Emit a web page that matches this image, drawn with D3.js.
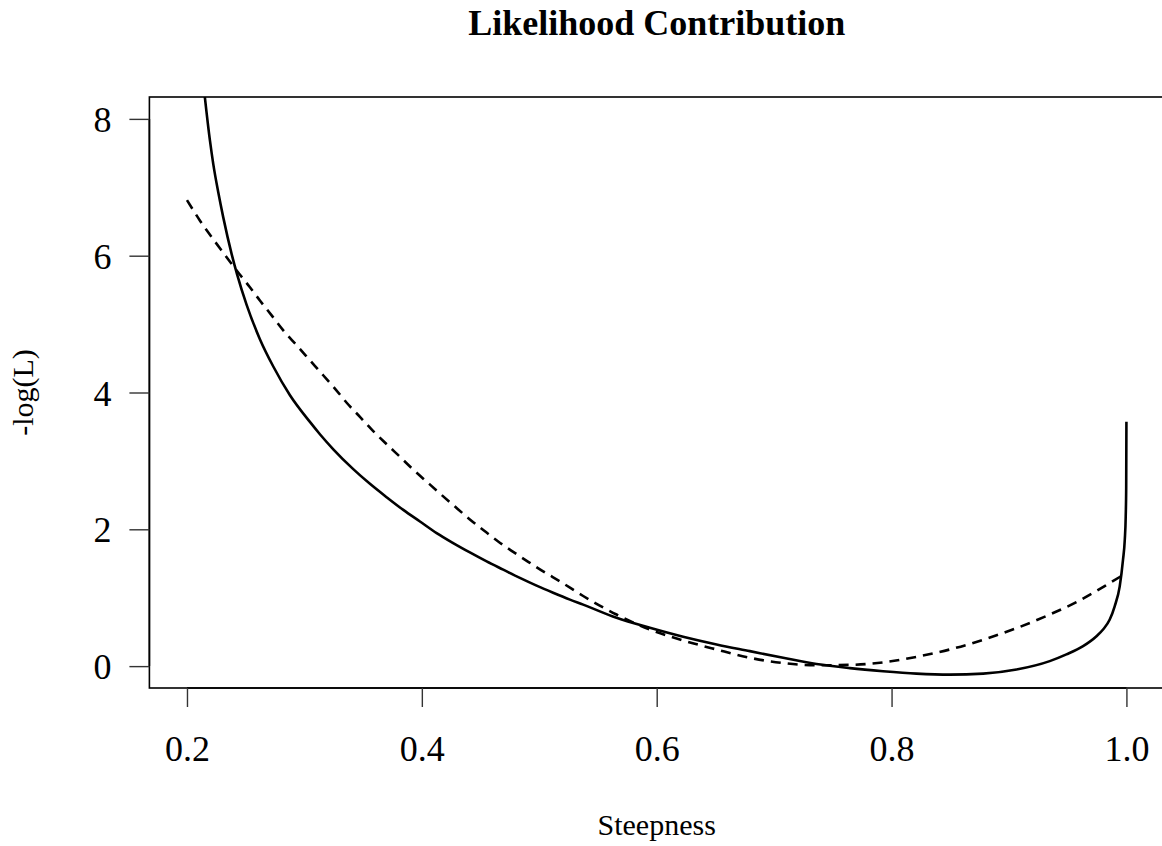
<!DOCTYPE html>
<html>
<head>
<meta charset="utf-8">
<script src="https://cdn.jsdelivr.net/npm/d3@7"></script>
<style>
  html, body { margin: 0; padding: 0; background: #fff; }
  svg { display: block; }
  text { font-family: "Liberation Serif", "Times New Roman", serif; fill: #000; }
</style>
</head>
<body>
<svg id="chart" width="1162" height="846"></svg>
<script>
// ---- data ----
const xTicks = [0.2, 0.4, 0.6, 0.8, 1.0];
const xTickLabels = ["0.2", "0.4", "0.6", "0.8", "1.0"];
const yTicks = [0, 2, 4, 6, 8];
const yTickLabels = ["0", "2", "4", "6", "8"];

const solidX = [0.2128, 0.2196, 0.2224, 0.2266, 0.2309, 0.2381, 0.2428, 0.2508, 0.2621, 0.2735,
  0.2877, 0.3047, 0.3132, 0.3246, 0.3416, 0.3558, 0.3700, 0.3842, 0.3984, 0.4126,
  0.4267, 0.4409, 0.4552, 0.4693, 0.4835, 0.4977, 0.5118, 0.5261, 0.5374, 0.5658,
  0.5942, 0.6225, 0.6510, 0.6793, 0.7077, 0.7361, 0.7645, 0.7928, 0.8212, 0.8496,
  0.8780, 0.9064, 0.9347, 0.9489, 0.9631, 0.9745, 0.9801, 0.9858, 0.9900, 0.9943,
  0.9971, 0.9986, 0.9994, 0.9998, 1.0];
const solidY = [8.70, 7.678, 7.338, 6.93, 6.560, 6.02, 5.72, 5.28, 4.78, 4.38,
  3.96, 3.57, 3.39, 3.17, 2.88, 2.665, 2.47, 2.284, 2.114, 1.945,
  1.799, 1.662, 1.531, 1.410, 1.289, 1.176, 1.072, 0.972, 0.899, 0.706,
  0.560, 0.429, 0.316, 0.219, 0.122, 0.030, -0.030, -0.075, -0.110, -0.125,
  -0.110, -0.050, 0.073, 0.171, 0.292, 0.437, 0.535, 0.681, 0.875, 1.166,
  1.555, 1.847, 2.187, 2.60, 3.571];

const dashedX = [0.2, 0.2111, 0.2224, 0.2324, 0.2423, 0.2536, 0.2621, 0.2721, 0.2820, 0.2934,
  0.3047, 0.3160, 0.3260, 0.3360, 0.3473, 0.3586, 0.3714, 0.3813, 0.3927, 0.4041,
  0.4168, 0.4282, 0.4409, 0.4523, 0.4650, 0.4778, 0.4906, 0.5033, 0.5176, 0.5374,
  0.5658, 0.5942, 0.6225, 0.6510, 0.6793, 0.7077, 0.7361, 0.7645, 0.7928, 0.8212,
  0.8496, 0.8780, 0.9064, 0.9347, 0.9574, 0.9716, 0.9858, 1.0];
const dashedY = [6.813, 6.512, 6.240, 6.010, 5.783, 5.539, 5.345, 5.127, 4.908, 4.690,
  4.471, 4.252, 4.058, 3.850, 3.644, 3.435, 3.222, 3.061, 2.872, 2.697,
  2.503, 2.332, 2.145, 1.990, 1.822, 1.670, 1.525, 1.385, 1.239, 1.025,
  0.754, 0.535, 0.375, 0.243, 0.122, 0.045, 0.012, 0.018, 0.055, 0.135,
  0.243, 0.385, 0.555, 0.754, 0.935, 1.070, 1.215, 1.362];

const title = "Likelihood Contribution";
const xLabel = "Steepness";
const yLabel = "-log(L)";

// ---- layout ----
const svg = d3.select("#chart");
const pL = 149.4, pR = 1164, pT = 97, pB = 688;

const x = d3.scaleLinear().domain([0.168, 1.032]).range([pL, pR]);
const y = d3.scaleLinear().domain([-0.32, 8.32]).range([pB, pT]);

svg.append("defs").append("clipPath").attr("id", "plotclip")
  .append("rect").attr("x", pL).attr("y", pT)
  .attr("width", pR - pL).attr("height", pB - pT);

// box
svg.append("rect")
  .attr("x", pL).attr("y", pT)
  .attr("width", pR - pL).attr("height", pB - pT)
  .attr("fill", "none").attr("stroke", "#000").attr("stroke-width", 1.6);

// x axis
const xAxis = d3.axisBottom(x).tickValues(xTicks)
  .tickFormat((d, i) => xTickLabels[i]).tickSizeOuter(0).tickSize(19).tickPadding(10);
const gx = svg.append("g").attr("transform", `translate(0,${pB})`).call(xAxis);
gx.select(".domain").attr("d", `M${x(xTicks[0])},0H${x(xTicks[xTicks.length-1])}`)
  .attr("stroke-width", 1.6);
gx.selectAll(".tick line").attr("stroke-width", 1.4).attr("stroke", "#333");
gx.selectAll(".tick text").style("font-family", "Liberation Serif, serif")
  .style("font-size", "36px").attr("fill", "#000").attr("dy", null)
  .attr("y", 73);

// y axis
const yAxis = d3.axisLeft(y).tickValues(yTicks)
  .tickFormat((d, i) => yTickLabels[i]).tickSizeOuter(0).tickSize(20).tickPadding(18);
const gy = svg.append("g").attr("transform", `translate(${pL},0)`).call(yAxis);
gy.select(".domain").attr("d", `M0,${y(yTicks[0])}V${y(yTicks[yTicks.length-1])}`)
  .attr("stroke-width", 1.6);
gy.selectAll(".tick line").attr("stroke-width", 1.4).attr("stroke", "#333");
gy.selectAll(".tick text").style("font-family", "Liberation Serif, serif")
  .style("font-size", "36px").attr("fill", "#000").attr("dy", "0.35em");

// lines
const solid = solidX.map((v, i) => [v, solidY[i]]);
const dashed = dashedX.map((v, i) => [v, dashedY[i]]);
const line = d3.line().x(d => x(d[0])).y(d => y(d[1])).curve(d3.curveMonotoneX);

const plot = svg.append("g").attr("clip-path", "url(#plotclip)");
plot.append("path").datum(solid).attr("d", line)
  .attr("fill", "none").attr("stroke", "#000").attr("stroke-width", 2.6)
  .attr("stroke-linejoin", "round");
plot.append("path").datum(dashed).attr("d", line)
  .attr("fill", "none").attr("stroke", "#000").attr("stroke-width", 2.6)
  .attr("stroke-dasharray", "10,7");

// title & labels
const cx = (pL + pR) / 2;
svg.append("text").attr("x", cx).attr("y", 35).attr("text-anchor", "middle")
  .style("font-size", "36px").style("font-weight", "bold").text(title);
svg.append("text").attr("x", cx).attr("y", 835).attr("text-anchor", "middle")
  .style("font-size", "30px").text(xLabel);
svg.append("text").attr("transform", `translate(33,${(pT + pB) / 2}) rotate(-90)`)
  .attr("text-anchor", "middle").style("font-size", "30px").text(yLabel);
</script>
</body>
</html>
